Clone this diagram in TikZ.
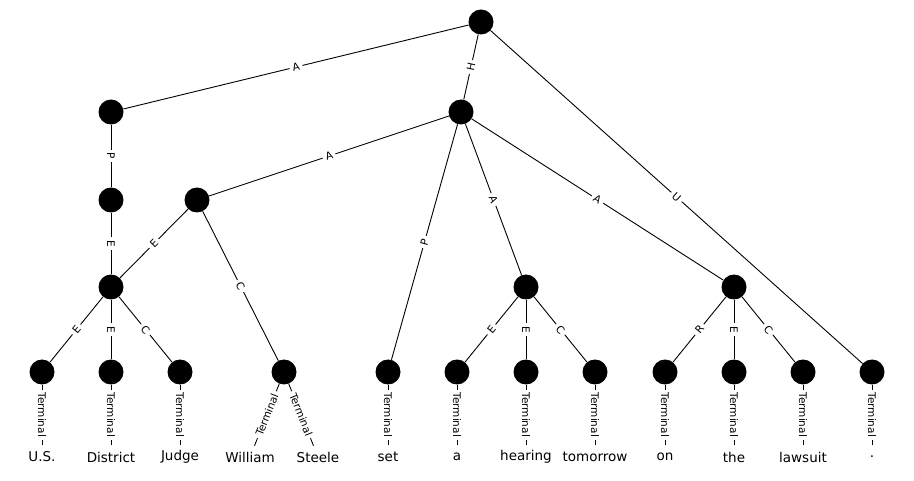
\documentclass[tikz,border=0pt]{standalone}
\usepackage{fontspec}
\setmainfont{DejaVu Sans}
\begin{document}
\begin{tikzpicture}[x=1pt,y=-1pt,
  tnode/.style={circle, fill=black, minimum size=25pt, inner sep=0pt},
  wnode/.style={circle, minimum size=24pt, inner sep=0pt},
  wfont/.style={font=\fontsize{13.5}{16}\selectfont},
  elab/.style={sloped, midway, fill=white, inner sep=3pt, font=\fontsize{10.5}{12}\selectfont},
  conn/.style={line width=0.9pt}]
\useasboundingbox (0,0) rectangle (914,481);
% nonterminal nodes
\node[tnode] (r) at (481,22) {};
\node[tnode] (n1) at (111,112) {};
\node[tnode] (n2) at (461,112) {};
\node[tnode] (n3) at (111,200) {};
\node[tnode] (n4) at (197,200) {};
\node[tnode] (n5) at (111,287) {};
\node[tnode] (n6) at (526,287) {};
\node[tnode] (n7) at (734,287) {};
% terminal nodes
\node[tnode] (t1) at (42,372) {};
\node[tnode] (t2) at (111,372) {};
\node[tnode] (t3) at (180,372) {};
\node[tnode] (t4) at (284,372) {};
\node[tnode] (t5) at (388,372) {};
\node[tnode] (t6) at (457,372) {};
\node[tnode] (t7) at (526,372) {};
\node[tnode] (t8) at (595,372) {};
\node[tnode] (t9) at (665,372) {};
\node[tnode] (t10) at (734,372) {};
\node[tnode] (t11) at (803,372) {};
\node[tnode] (t12) at (872,372) {};
% word nodes
\node[wnode, label={[wfont]center:U.S.}] (w1) at (42,457) {};
\node[wnode, label={[wfont]center:District}] (w2) at (111,457) {};
\node[wnode, label={[wfont]center:Judge}] (w3) at (180,457) {};
\node[wnode, label={[wfont]center:William}] (w4) at (250,457) {};
\node[wnode, label={[wfont]center:Steele}] (w5) at (318,457) {};
\node[wnode, label={[wfont]center:set}] (w6) at (388,457) {};
\node[wnode, label={[wfont]center:a}] (w7) at (457,457) {};
\node[wnode, label={[wfont]center:hearing}] (w8) at (526,457) {};
\node[wnode, label={[wfont]center:tomorrow}] (w9) at (595,457) {};
\node[wnode, label={[wfont]center:on}] (w10) at (665,457) {};
\node[wnode, label={[wfont]center:the}] (w11) at (734,457) {};
\node[wnode, label={[wfont]center:lawsuit}] (w12) at (803,457) {};
\node[wnode, label={[wfont]center:.}] (w13) at (872,457) {};
% edges
\draw[conn] (r) -- node[elab] {A} (n1);
\draw[conn] (r) -- node[elab] {H} (n2);
\draw[conn] (r) -- node[elab] {U} (t12);
\draw[conn] (n1) -- node[elab] {P} (n3);
\draw[conn] (n3) -- node[elab] {E} (n5);
\draw[conn] (n2) -- node[elab] {A} (n4);
\draw[conn] (n4) -- node[elab] {E} (n5);
\draw[conn] (n4) -- node[elab] {C} (t4);
\draw[conn] (n2) -- node[elab] {P} (t5);
\draw[conn] (n2) -- node[elab] {A} (n6);
\draw[conn] (n2) -- node[elab] {A} (n7);
\draw[conn] (n5) -- node[elab] {E} (t1);
\draw[conn] (n5) -- node[elab] {E} (t2);
\draw[conn] (n5) -- node[elab] {C} (t3);
\draw[conn] (n6) -- node[elab] {E} (t6);
\draw[conn] (n6) -- node[elab] {E} (t7);
\draw[conn] (n6) -- node[elab] {C} (t8);
\draw[conn] (n7) -- node[elab] {R} (t9);
\draw[conn] (n7) -- node[elab] {E} (t10);
\draw[conn] (n7) -- node[elab] {C} (t11);
% terminal edges
\draw[conn] (t1) -- node[elab] {Terminal} (w1);
\draw[conn] (t2) -- node[elab] {Terminal} (w2);
\draw[conn] (t3) -- node[elab] {Terminal} (w3);
\draw[conn] (t4) -- node[elab] {Terminal} (w4);
\draw[conn] (t4) -- node[elab] {Terminal} (w5);
\draw[conn] (t5) -- node[elab] {Terminal} (w6);
\draw[conn] (t6) -- node[elab] {Terminal} (w7);
\draw[conn] (t7) -- node[elab] {Terminal} (w8);
\draw[conn] (t8) -- node[elab] {Terminal} (w9);
\draw[conn] (t9) -- node[elab] {Terminal} (w10);
\draw[conn] (t10) -- node[elab] {Terminal} (w11);
\draw[conn] (t11) -- node[elab] {Terminal} (w12);
\draw[conn] (t12) -- node[elab] {Terminal} (w13);
\end{tikzpicture}
\end{document}
